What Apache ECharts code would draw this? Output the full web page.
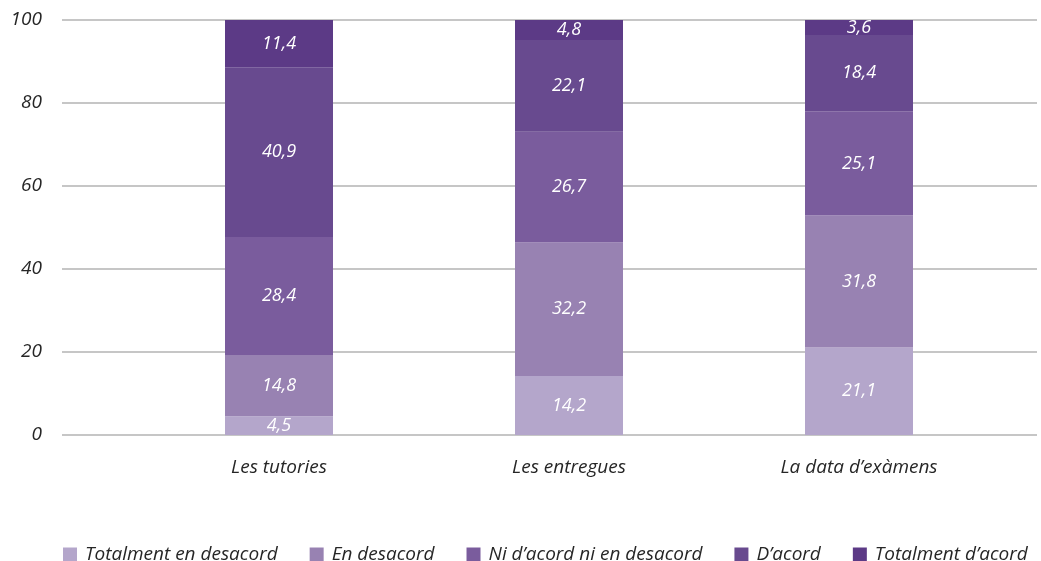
<!DOCTYPE html>
<html>
<head>
<meta charset="utf-8">
<script src="https://cdn.jsdelivr.net/npm/echarts@6/dist/echarts.min.js"></script>
<style>
  html, body { margin: 0; padding: 0; background: #fff; }
  #chart { width: 1041px; height: 561px; }
</style>
</head>
<body>
<div id="chart"></div>
<script>
const categories = ['Les tutories', 'Les entregues', 'La data d\u2019exàmens']
const seriesNames = ['Totalment en desacord', 'En desacord', 'Ni d\u2019acord ni en desacord', 'D\u2019acord', 'Totalment d\u2019acord']
const totalmentDesacord = [4.5, 14.2, 21.1]
const enDesacord = [14.8, 32.2, 31.8]
const niNi = [28.4, 26.7, 25.1]
const dAcord = [40.9, 22.1, 18.4]
const totalmentAcord = [11.4, 4.8, 3.6]
const yTicks = [0, 20, 40, 60, 80, 100]
const colors = ['#b4a6cb', '#9882b2', '#7a5c9d', '#684a8f', '#5c3a86']

const font = '"Open Sans", sans-serif'
const values = [totalmentDesacord, enDesacord, niNi, dAcord, totalmentAcord]

const chart = echarts.init(document.getElementById('chart'))
chart.setOption({
  animation: false,
  color: colors,
  textStyle: { fontFamily: font, fontStyle: 'italic' },
  grid: [
    // grid for the y gridlines (wider than the bar area)
    { left: 62, right: 4, top: 20, bottom: 126 },
    // grid for the bars
    { left: 134, right: 37, top: 20, bottom: 126 }
  ],
  xAxis: [
    { gridIndex: 0, type: 'value', show: false, min: 0, max: 1 },
    {
      gridIndex: 1,
      type: 'category',
      data: categories,
      axisLine: { show: false },
      axisTick: { show: false },
      axisLabel: { margin: 23, fontSize: 19, color: '#262626', fontStyle: 'italic', fontFamily: font }
    }
  ],
  yAxis: [
    {
      gridIndex: 0,
      type: 'value',
      min: 0,
      max: 100,
      interval: 20,
      axisLine: { show: false },
      axisTick: { show: false },
      splitLine: { lineStyle: { color: '#b3b3b3', width: 1.5 } },
      axisLabel: {
        margin: 20, fontSize: 19, color: '#262626', fontStyle: 'italic', fontFamily: font,
        formatter: v => yTicks.includes(v) ? String(v) : ''
      }
    },
    { gridIndex: 1, type: 'value', min: 0, max: 100, show: false }
  ],
  legend: {
    left: 58,
    top: 540,
    itemWidth: 14,
    itemHeight: 14,
    itemGap: 32,
    icon: 'rect',
    data: seriesNames,
    textStyle: { fontSize: 19, color: '#262626', fontStyle: 'italic', fontFamily: font, padding: [0, 0, 0, 3] }
  },
  series: seriesNames.map((name, i) => ({
    name: name,
    type: 'bar',
    stack: 'total',
    xAxisIndex: 1,
    yAxisIndex: 1,
    barWidth: 108,
    data: values[i],
    label: {
      show: true,
      position: 'inside',
      color: '#fff',
      fontSize: 18,
      fontStyle: 'italic',
      fontFamily: font,
      formatter: p => String(p.value).replace('.', ',')
    }
  }))
})
</script>
</body>
</html>
